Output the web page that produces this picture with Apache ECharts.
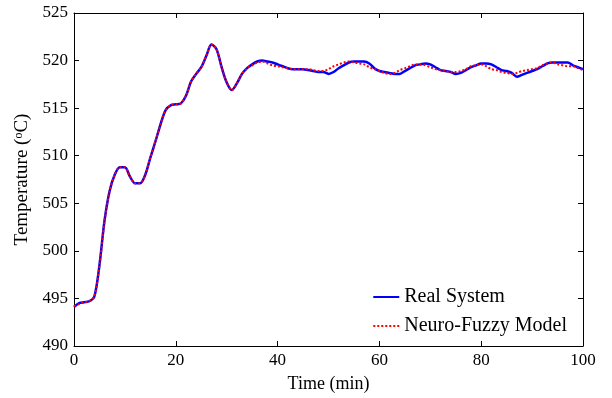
<!DOCTYPE html>
<html>
<head>
<meta charset="utf-8">
<title>Temperature</title>
<script src="https://cdn.jsdelivr.net/npm/echarts@6/dist/echarts.min.js"></script>
<style>
  html, body { margin: 0; padding: 0; background: #fff; }
  #chart { width: 612px; height: 398px; }
</style>
</head>
<body>
<div id="chart"></div>
<script>
// time in minutes
const timeMin = [];
for (let t = 0; t <= 100; t++) timeMin.push(t);

const realSystem = [
  494.1, 494.5, 494.6, 494.7, 495.2, 498.5, 503.2, 506.3, 508.0, 508.8,
  508.8, 507.8, 507.1, 507.1, 508.0, 509.8, 511.5, 513.3, 514.8, 515.3,
  515.4, 515.5, 516.3, 517.8, 518.6, 519.3, 520.5, 521.7, 521.2, 519.3,
  517.7, 516.9, 517.6, 518.6, 519.2, 519.6, 519.9, 520.0, 519.9, 519.8,
  519.6, 519.4, 519.2, 519.1, 519.1, 519.1, 519.0, 518.9, 518.8, 518.8,
  518.6, 518.8, 519.2, 519.5, 519.8, 519.9, 519.9, 519.9, 519.7, 519.2,
  518.9, 518.8, 518.7, 518.6, 518.6, 518.9, 519.2, 519.5, 519.6, 519.7,
  519.6, 519.3, 519.0, 518.9, 518.8, 518.6, 518.7, 519.0, 519.3, 519.5,
  519.7, 519.7, 519.6, 519.3, 519.0, 518.9, 518.7, 518.3, 518.5, 518.7,
  518.9, 519.1, 519.4, 519.7, 519.8, 519.8, 519.8, 519.8, 519.5, 519.3,
  519.1
];

const neuroFuzzy = [
  494.2, 494.4, 494.6, 494.7, 495.2, 498.4, 503.1, 506.3, 508.0, 508.8,
  508.8, 507.8, 507.1, 507.1, 508.0, 509.8, 511.5, 513.3, 514.8, 515.3,
  515.4, 515.5, 516.3, 517.8, 518.6, 519.3, 520.5, 521.7, 521.2, 519.3,
  517.7, 516.9, 517.6, 518.6, 519.2, 519.5, 519.8, 519.9, 519.7, 519.5,
  519.4, 519.3, 519.2, 519.1, 519.1, 519.1, 519.1, 519.0, 518.9, 518.9,
  519.1, 519.4, 519.6, 519.8, 519.9, 519.8, 519.7, 519.6, 519.3, 519.1,
  518.9, 518.7, 518.6, 518.7, 519.0, 519.2, 519.4, 519.6, 519.6, 519.5,
  519.3, 519.1, 519.0, 518.9, 518.8, 518.8, 518.9, 519.1, 519.4, 519.5,
  519.6, 519.4, 519.1, 519.0, 518.8, 518.7, 518.6, 518.7, 518.9, 519.0,
  519.1, 519.2, 519.5, 519.7, 519.8, 519.6, 519.5, 519.4, 519.4, 519.2,
  519.0
];

const seriesNames = ["Real System", "Neuro-Fuzzy Model"];

const font = "Liberation Serif";
const chart = echarts.init(document.getElementById("chart"));

const baseX = {
  type: "value",
  min: 0,
  max: 100,
  interval: 20,
  axisLine: { show: true, onZero: false, lineStyle: { color: "#000", width: 1 } },
  axisTick: { show: true, inside: true, length: 5, lineStyle: { color: "#000" } },
  splitLine: { show: false }
};
const baseY = {
  type: "value",
  min: 490,
  max: 525,
  interval: 5,
  axisLine: { show: true, onZero: false, lineStyle: { color: "#000", width: 1 } },
  axisTick: { show: true, inside: true, length: 5, lineStyle: { color: "#000" } },
  splitLine: { show: false }
};

chart.setOption({
  animation: false,
  color: ["#0000ff", "#ff0000"],
  grid: { left: 74, right: 29, top: 13, bottom: 50 },
  xAxis: [
    Object.assign({}, baseX, {
      position: "bottom",
      name: "Time (min)",
      nameLocation: "middle",
      nameGap: 29,
      nameTextStyle: { fontFamily: font, fontSize: 18, color: "#000" },
      axisLabel: { fontFamily: font, fontSize: 17, color: "#000", margin: 6 }
    }),
    Object.assign({}, baseX, { position: "top", axisLabel: { show: false } })
  ],
  yAxis: [
    Object.assign({}, baseY, {
      position: "left",
      name: "Temperature ({sup|o}C)",
      nameLocation: "middle",
      nameGap: 42,
      nameTextStyle: {
        fontFamily: font, fontSize: 19, color: "#000",
        rich: { sup: { fontFamily: font, fontSize: 12, color: "#000", verticalAlign: "top", padding: [0, 0, 7, 0] } }
      },
      axisLabel: { fontFamily: font, fontSize: 17, color: "#000", margin: 6 }
    }),
    Object.assign({}, baseY, { position: "right", axisLabel: { show: false } })
  ],
  legend: {
    data: seriesNames,
    orient: "vertical",
    right: 40,
    bottom: 57,
    itemWidth: 26,
    itemHeight: 1,
    itemGap: 9,
    itemStyle: { opacity: 0 },
    textStyle: { fontFamily: font, fontSize: 20, color: "#000" }
  },
  series: [
    {
      name: seriesNames[0],
      type: "line",
      data: timeMin.map((t, i) => [t, realSystem[i]]),
      smooth: 0.3,
      symbol: "none",
      lineStyle: { color: "#0000ff", width: 2.5 }
    },
    {
      name: seriesNames[1],
      type: "line",
      data: timeMin.map((t, i) => [t, neuroFuzzy[i]]),
      smooth: 0.3,
      symbol: "none",
      lineStyle: { color: "#ff0000", width: 2, type: [2, 2] }
    }
  ]
});
</script>
</body>
</html>
